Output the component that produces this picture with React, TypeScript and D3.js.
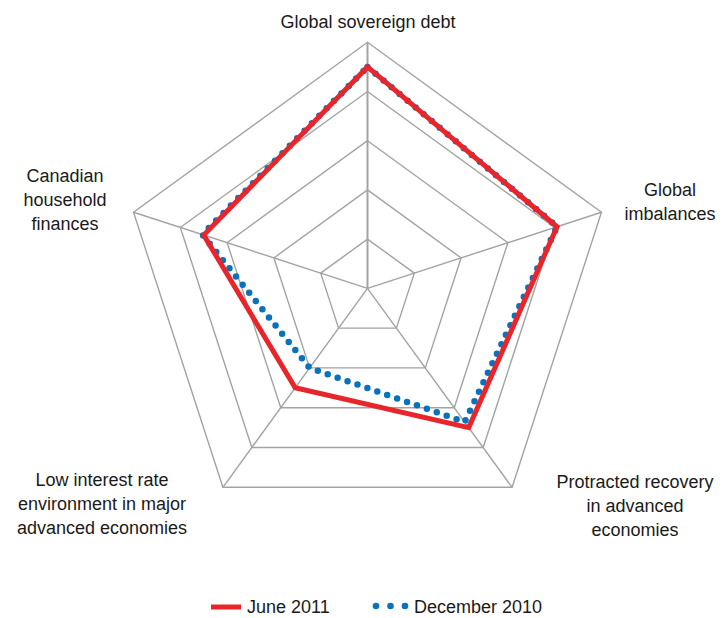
import React from "react";
import * as d3 from "d3";

const categories: string[][] = [
  ["Global sovereign debt"],
  ["Global", "imbalances"],
  ["Protracted recovery", "in advanced", "economies"],
  ["Low interest rate", "environment in major", "advanced economies"],
  ["Canadian", "household", "finances"],
];
const june2011: number[] = [4.5, 4.05, 3.5, 2.5, 3.5];
const december2010: number[] = [4.5, 4.05, 3.36, 2.0, 3.53];
const ringLevels: number[] = [1, 2, 3, 4, 5];
const seriesNames: string[] = ["June 2011", "December 2010"];

const W = 722;
const H = 618;
const cx = 367.5;
const cy = 288.3;
const R = 246;
const RED = "#e8252b";
const BLUE = "#0a72bd";
const GRID = "#a3a3a3";
const FONT = "'Liberation Sans', Arial, Helvetica, sans-serif";

const labelPos: { x: number; y: number }[] = [
  { x: 368, y: 28 },
  { x: 670, y: 196 },
  { x: 635, y: 488 },
  { x: 102, y: 486 },
  { x: 65, y: 182 },
];

export default function App() {
  const r = d3.scaleLinear().domain([0, 5]).range([0, R]);
  const n = categories.length;
  const angle = (i: number) => (i * 2 * Math.PI) / n;
  const pt = (i: number, v: number): [number, number] => [
    cx + r(v) * Math.sin(angle(i)),
    cy - r(v) * Math.cos(angle(i)),
  ];
  const closed = d3.line<[number, number]>().curve(d3.curveLinearClosed);
  const ring = (lv: number) => closed(d3.range(n).map((i) => pt(i, lv))) || "";
  const series = (vals: number[]) => closed(vals.map((v, i) => pt(i, v))) || "";

  return (
    <svg
      width={W}
      height={H}
      style={{ position: "absolute", left: 0, top: 0, background: "#fff" }}
      fontFamily={FONT}
    >
      {ringLevels.map((lv) => (
        <path key={lv} d={ring(lv)} fill="none" stroke={GRID} strokeWidth={1.4} />
      ))}
      {d3.range(n).map((i) => {
        const [x2, y2] = pt(i, 5);
        return (
          <line
            key={i}
            x1={cx}
            y1={cy}
            x2={x2}
            y2={y2}
            stroke={GRID}
            strokeWidth={i === 0 ? 2 : 1.4}
          />
        );
      })}
      <path
        d={series(december2010)}
        fill="none"
        stroke={BLUE}
        strokeWidth={6.5}
        strokeDasharray="0 10.5"
        strokeLinecap="round"
      />
      <path
        d={series(june2011)}
        fill="none"
        stroke={RED}
        strokeWidth={5}
        strokeLinejoin="miter"
      />
      {categories.map((lines, i) => (
        <text
          key={i}
          x={labelPos[i].x}
          y={labelPos[i].y}
          textAnchor="middle"
          fontSize={18}
          fill="#1a1a1a"
        >
          {lines.map((l, j) => (
            <tspan key={j} x={labelPos[i].x} dy={j === 0 ? 0 : 24}>
              {l}
            </tspan>
          ))}
        </text>
      ))}
      <g>
        <line x1={211} x2={241} y1={607} y2={607} stroke={RED} strokeWidth={5} />
        <text x={247} y={613} fontSize={18} fill="#1a1a1a">
          {seriesNames[0]}
        </text>
        {[376, 390.5, 405].map((x) => (
          <circle key={x} cx={x} cy={606} r={3.3} fill={BLUE} />
        ))}
        <text x={414} y={613} fontSize={18} fill="#1a1a1a">
          {seriesNames[1]}
        </text>
      </g>
    </svg>
  );
}
